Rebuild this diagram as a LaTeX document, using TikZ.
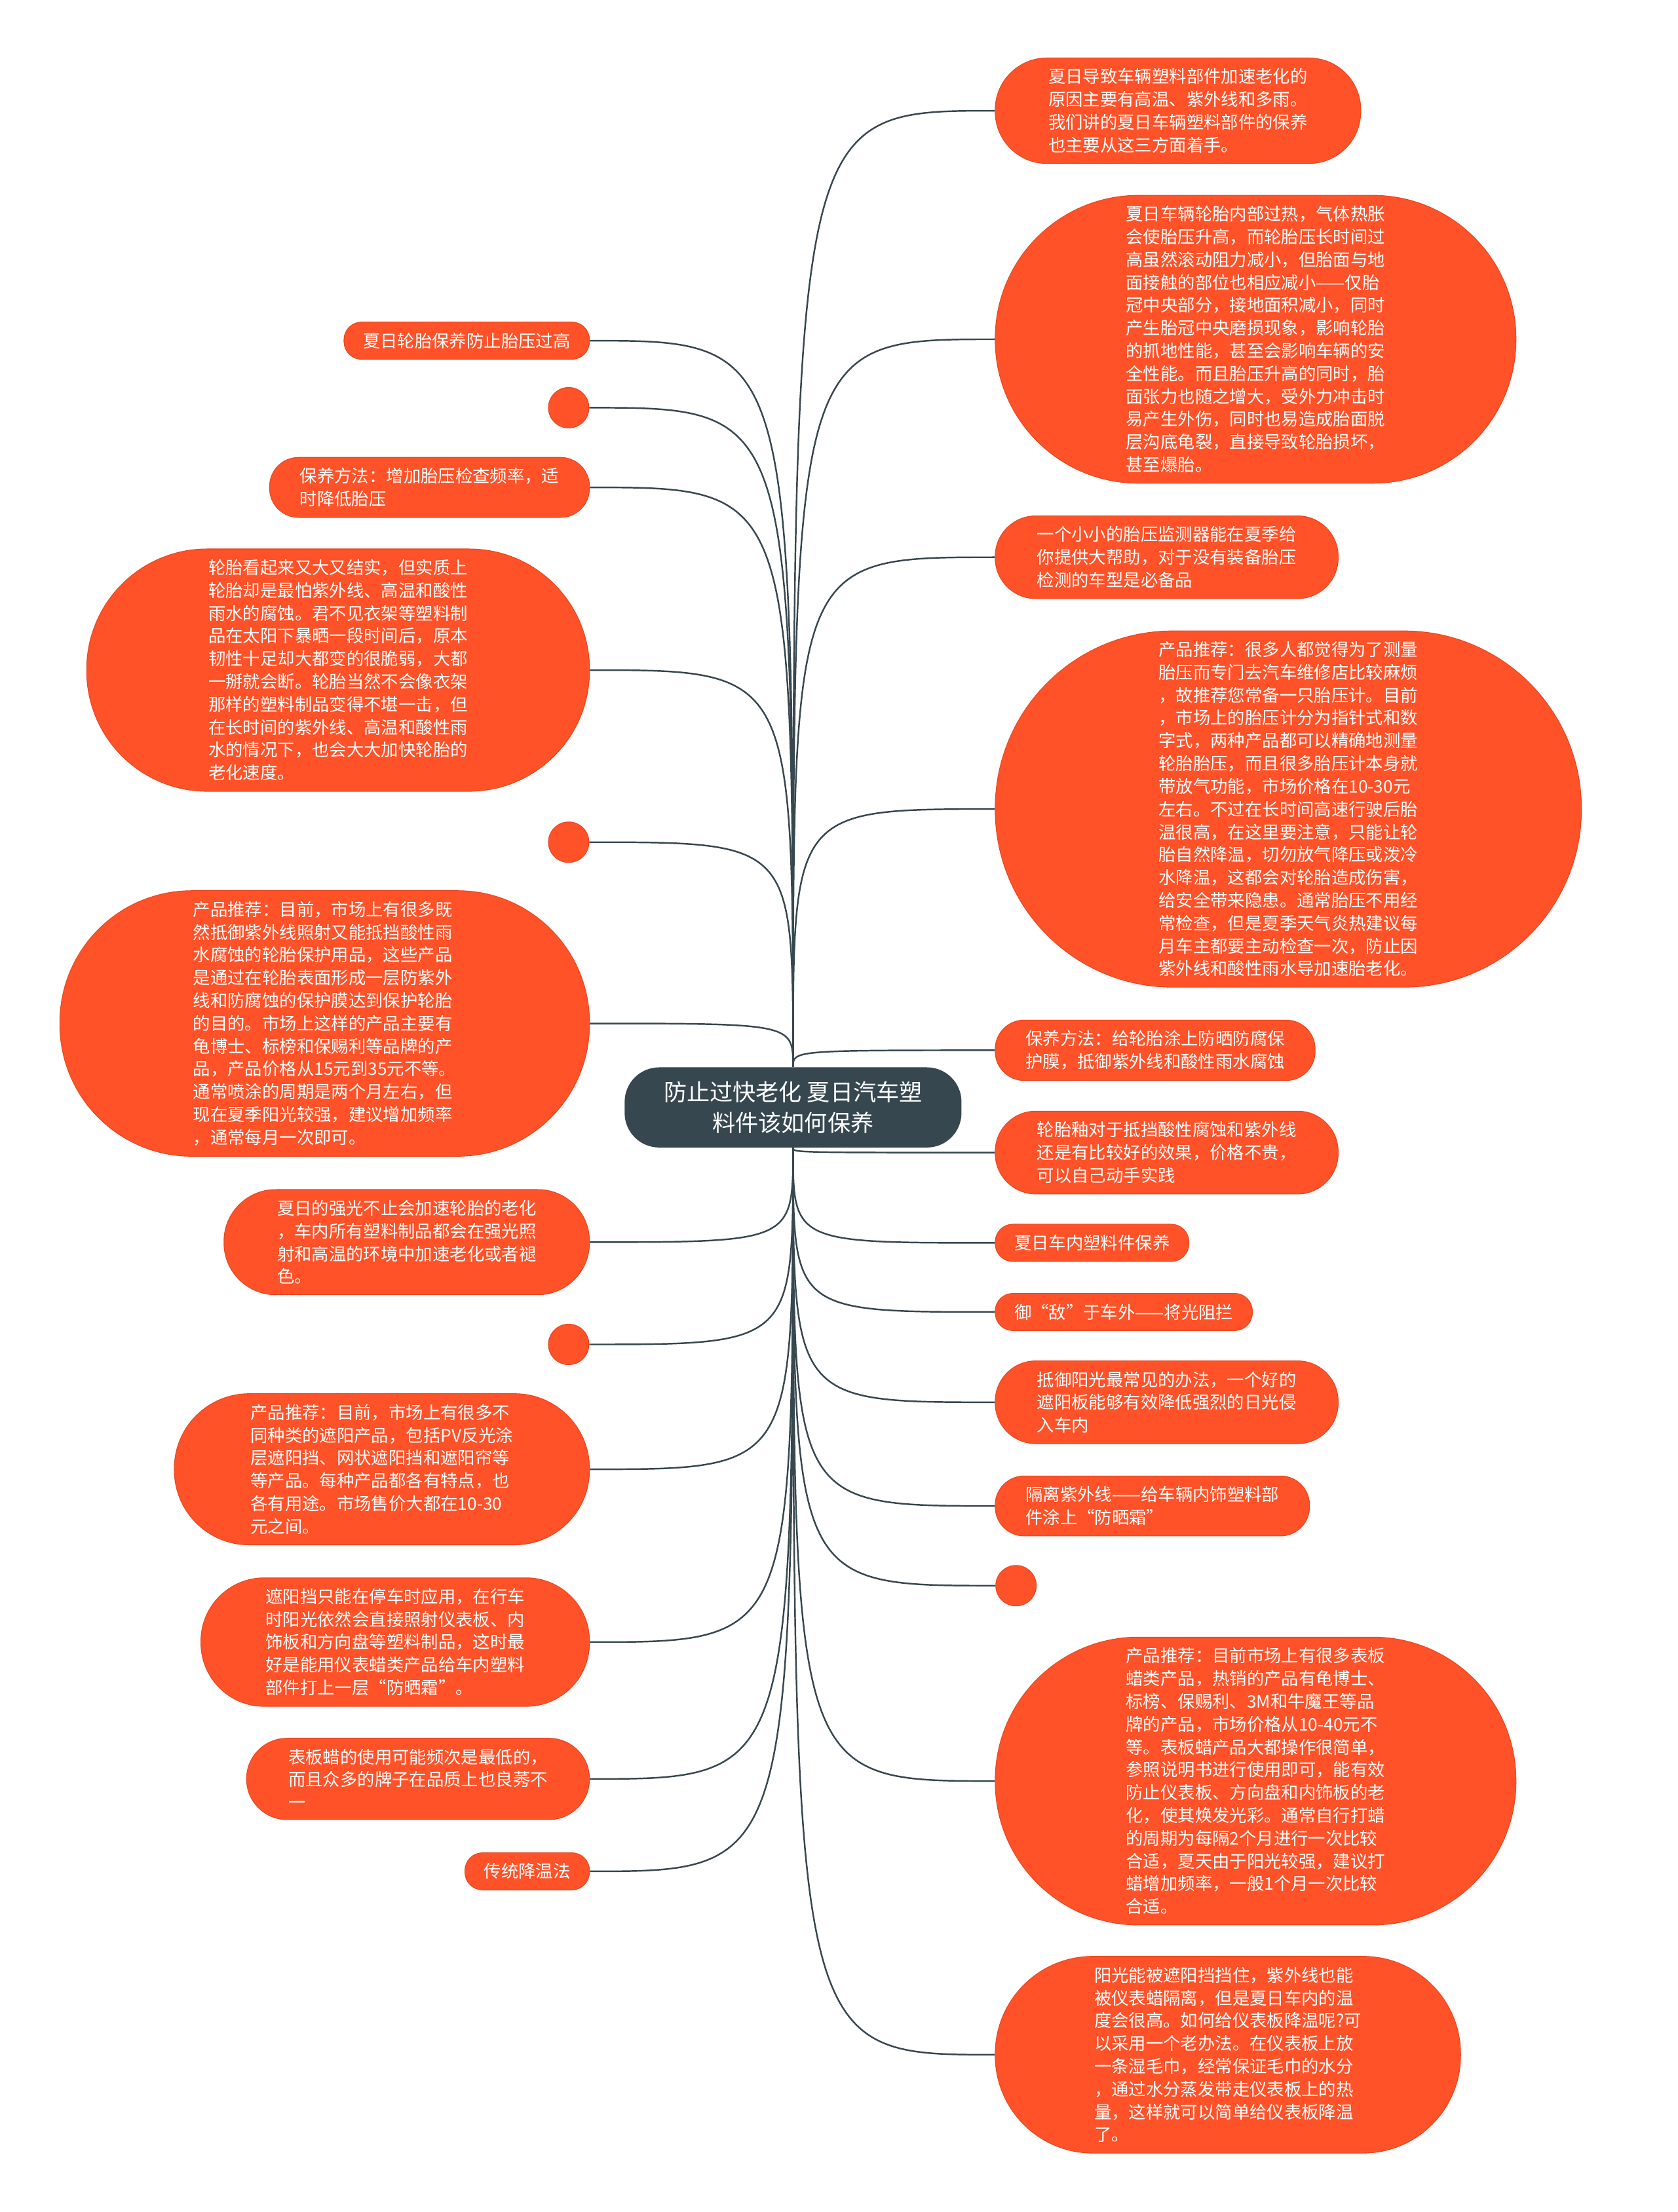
\documentclass[tikz,border=0pt]{standalone}
\usepackage{fontspec}
\newfontfamily\cjkfont{Noto Sans CJK SC}
\usetikzlibrary{backgrounds}
\definecolor{leafred}{HTML}{FF5229}
\definecolor{leafedge}{HTML}{E9461F}
\definecolor{hubgrey}{HTML}{37474F}
\tikzset{
  fig/.style={font=\cjkfont},
  leaf/.style={rectangle,rounded corners=#1-0.6pt,fill=leafred,draw=leafedge,line width=0.3pt,
               text=white,align=left,inner xsep=#1,inner ysep=4.6pt,
               font=\cjkfont\fontsize{7.5pt}{9.9pt}\selectfont},
  blob/.style={circle,fill=leafred,draw=leafedge,line width=0.3pt,minimum size=17.6pt,inner sep=0pt},
  hub/.style={rectangle,rounded corners=15pt,fill=hubgrey,text=white,align=center,
              inner xsep=17pt,inner ysep=6pt,font=\cjkfont\fontsize{10pt}{13.5pt}\selectfont},
  ln/.style={draw=hubgrey,line width=0.7pt},
}
\begin{document}
\begin{tikzpicture}[fig,x=0.21531mm,y=-0.21531mm]
\useasboundingbox (0,0) rectangle (1189,1568);

\node[hub] (hub) at (562,785) {防止过快老化 夏日汽车塑\\料件该如何保养};

% right side
\node[leaf=23.1pt,anchor=west] (r1) at (705,78.5) {夏日导致车辆塑料部件加速老化的\\原因主要有高温、紫外线和多雨。\\我们讲的夏日车辆塑料部件的保养\\也主要从这三方面着手。};
\node[leaf=62.8pt,inner xsep=56.8pt,anchor=west] (r2) at (705,240.5) {夏日车辆轮胎内部过热，气体热胀\\会使胎压升高，而轮胎压长时间过\\高虽然滚动阻力减小，但胎面与地\\面接触的部位也相应减小——仅胎\\冠中央部分，接地面积减小，同时\\产生胎冠中央磨损现象，影响轮胎\\的抓地性能，甚至会影响车辆的安\\全性能。而且胎压升高的同时，胎\\面张力也随之增大，受外力冲击时\\易产生外伤，同时也易造成胎面脱\\层沟底龟裂，直接导致轮胎损坏，\\甚至爆胎。};
\node[leaf=18.2pt,anchor=west] (r3) at (705,395) {一个小小的胎压监测器能在夏季给\\你提供大帮助，对于没有装备胎压\\检测的车型是必备品};
\node[leaf=77.7pt,inner xsep=71pt,anchor=west] (r4) at (705,573.5) {产品推荐：很多人都觉得为了测量\\胎压而专门去汽车维修店比较麻烦\\，故推荐您常备一只胎压计。目前\\，市场上的胎压计分为指针式和数\\字式，两种产品都可以精确地测量\\轮胎胎压，而且很多胎压计本身就\\带放气功能，市场价格在10-30元\\左右。不过在长时间高速行驶后胎\\温很高，在这里要注意，只能让轮\\胎自然降温，切勿放气降压或泼冷\\水降温，这都会对轮胎造成伤害，\\给安全带来隐患。通常胎压不用经\\常检查，但是夏季天气炎热建议每\\月车主都要主动检查一次，防止因\\紫外线和酸性雨水导加速胎老化。};
\node[leaf=13.2pt,anchor=west] (r5) at (705,744.5) {保养方法：给轮胎涂上防晒防腐保\\护膜，抵御紫外线和酸性雨水腐蚀};
\node[leaf=18.2pt,anchor=west] (r6) at (705,817) {轮胎釉对于抵挡酸性腐蚀和紫外线\\还是有比较好的效果，价格不贵，\\可以自己动手实践};
\node[leaf=8.3pt,anchor=west] (r7) at (705,881) {夏日车内塑料件保养};
\node[leaf=8.3pt,anchor=west] (r8) at (705,930) {御“敌”于车外——将光阻拦};
\node[leaf=18.2pt,anchor=west] (r9) at (705,994) {抵御阳光最常见的办法，一个好的\\遮阳板能够有效降低强烈的日光侵\\入车内};
\node[leaf=13.2pt,anchor=west] (r10) at (705,1067.5) {隔离紫外线——给车辆内饰塑料部\\件涂上“防晒霜”};
\node[blob] (r11) at (720,1124) {};
\node[leaf=62.8pt,inner xsep=56.8pt,anchor=west] (r12) at (705,1262.5) {产品推荐：目前市场上有很多表板\\蜡类产品，热销的产品有龟博士、\\标榜、保赐利、3M和牛魔王等品\\牌的产品，市场价格从10-40元不\\等。表板蜡产品大都操作很简单，\\参照说明书进行使用即可，能有效\\防止仪表板、方向盘和内饰板的老\\化，使其焕发光彩。通常自行打蜡\\的周期为每隔2个月进行一次比较\\合适，夏天由于阳光较强，建议打\\蜡增加频率，一般1个月一次比较\\合适。};
\node[leaf=43pt,anchor=west] (r13) at (705,1456.5) {阳光能被遮阳挡挡住，紫外线也能\\被仪表蜡隔离，但是夏日车内的温\\度会很高。如何给仪表板降温呢?可\\以采用一个老办法。在仪表板上放\\一条湿毛巾，经常保证毛巾的水分\\，通过水分蒸发带走仪表板上的热\\量，这样就可以简单给仪表板降温\\了。};

% left side
\node[leaf=8.3pt,anchor=east] (l1) at (418,241.5) {夏日轮胎保养防止胎压过高};
\node[blob] (l2) at (403,289) {};
\node[leaf=13.2pt,anchor=east] (l3) at (418,345.5) {保养方法：增加胎压检查频率，适\\时降低胎压};
\node[leaf=52.9pt,anchor=east] (l4) at (418,475) {轮胎看起来又大又结实，但实质上\\轮胎却是最怕紫外线、高温和酸性\\雨水的腐蚀。君不见衣架等塑料制\\品在太阳下暴晒一段时间后，原本\\韧性十足却大都变的很脆弱，大都\\一掰就会断。轮胎当然不会像衣架\\那样的塑料制品变得不堪一击，但\\在长时间的紫外线、高温和酸性雨\\水的情况下，也会大大加快轮胎的\\老化速度。};
\node[blob] (l5) at (403,597) {};
\node[leaf=57.9pt,anchor=east] (l6) at (418,725.5) {产品推荐：目前，市场上有很多既\\然抵御紫外线照射又能抵挡酸性雨\\水腐蚀的轮胎保护用品，这些产品\\是通过在轮胎表面形成一层防紫外\\线和防腐蚀的保护膜达到保护轮胎\\的目的。市场上这样的产品主要有\\龟博士、标榜和保赐利等品牌的产\\品，产品价格从15元到35元不等。\\通常喷涂的周期是两个月左右，但\\现在夏季阳光较强，建议增加频率\\，通常每月一次即可。};
\node[leaf=23.1pt,anchor=east] (l7) at (418,880.5) {夏日的强光不止会加速轮胎的老化\\，车内所有塑料制品都会在强光照\\射和高温的环境中加速老化或者褪\\色。};
\node[blob] (l8) at (403,953) {};
\node[leaf=33.1pt,anchor=east] (l9) at (418,1041.5) {产品推荐：目前，市场上有很多不\\同种类的遮阳产品，包括PV反光涂\\层遮阳挡、网状遮阳挡和遮阳帘等\\等产品。每种产品都各有特点，也\\各有用途。市场售价大都在10-30\\元之间。};
\node[leaf=28.1pt,anchor=east] (l10) at (418,1164) {遮阳挡只能在停车时应用，在行车\\时阳光依然会直接照射仪表板、内\\饰板和方向盘等塑料制品，这时最\\好是能用仪表蜡类产品给车内塑料\\部件打上一层“防晒霜”。};
\node[leaf=18.2pt,anchor=east] (l11) at (418,1261) {表板蜡的使用可能频次是最低的，\\而且众多的牌子在品质上也良莠不\\一};
\node[leaf=8.3pt,anchor=east] (l12) at (418,1326.5) {传统降温法};

\begin{scope}[on background layer]
\draw[ln] (hub.north) .. controls (hub.north |- r1.west) .. (r1.west);
\draw[ln] (hub.north) .. controls (hub.north |- r2.west) .. (r2.west);
\draw[ln] (hub.north) .. controls (hub.north |- r3.west) .. (r3.west);
\draw[ln] (hub.north) .. controls (hub.north |- r4.west) .. (r4.west);
\draw[ln] (hub.north) .. controls (hub.north |- r5.west) .. (r5.west);
\draw[ln] (hub.south) .. controls (hub.south |- r6.west) .. (r6.west);
\draw[ln] (hub.south) .. controls (hub.south |- r7.west) .. (r7.west);
\draw[ln] (hub.south) .. controls (hub.south |- r8.west) .. (r8.west);
\draw[ln] (hub.south) .. controls (hub.south |- r9.west) .. (r9.west);
\draw[ln] (hub.south) .. controls (hub.south |- r10.west) .. (r10.west);
\draw[ln] (hub.south) .. controls (hub.south |- r11.west) .. (r11.west);
\draw[ln] (hub.south) .. controls (hub.south |- r12.west) .. (r12.west);
\draw[ln] (hub.south) .. controls (hub.south |- r13.west) .. (r13.west);
\draw[ln] (hub.north) .. controls (hub.north |- l1.east) .. (l1.east);
\draw[ln] (hub.north) .. controls (hub.north |- l2.east) .. (l2.east);
\draw[ln] (hub.north) .. controls (hub.north |- l3.east) .. (l3.east);
\draw[ln] (hub.north) .. controls (hub.north |- l4.east) .. (l4.east);
\draw[ln] (hub.north) .. controls (hub.north |- l5.east) .. (l5.east);
\draw[ln] (hub.north) .. controls (hub.north |- l6.east) .. (l6.east);
\draw[ln] (hub.south) .. controls (hub.south |- l7.east) .. (l7.east);
\draw[ln] (hub.south) .. controls (hub.south |- l8.east) .. (l8.east);
\draw[ln] (hub.south) .. controls (hub.south |- l9.east) .. (l9.east);
\draw[ln] (hub.south) .. controls (hub.south |- l10.east) .. (l10.east);
\draw[ln] (hub.south) .. controls (hub.south |- l11.east) .. (l11.east);
\draw[ln] (hub.south) .. controls (hub.south |- l12.east) .. (l12.east);
\end{scope}

\end{tikzpicture}
\end{document}
